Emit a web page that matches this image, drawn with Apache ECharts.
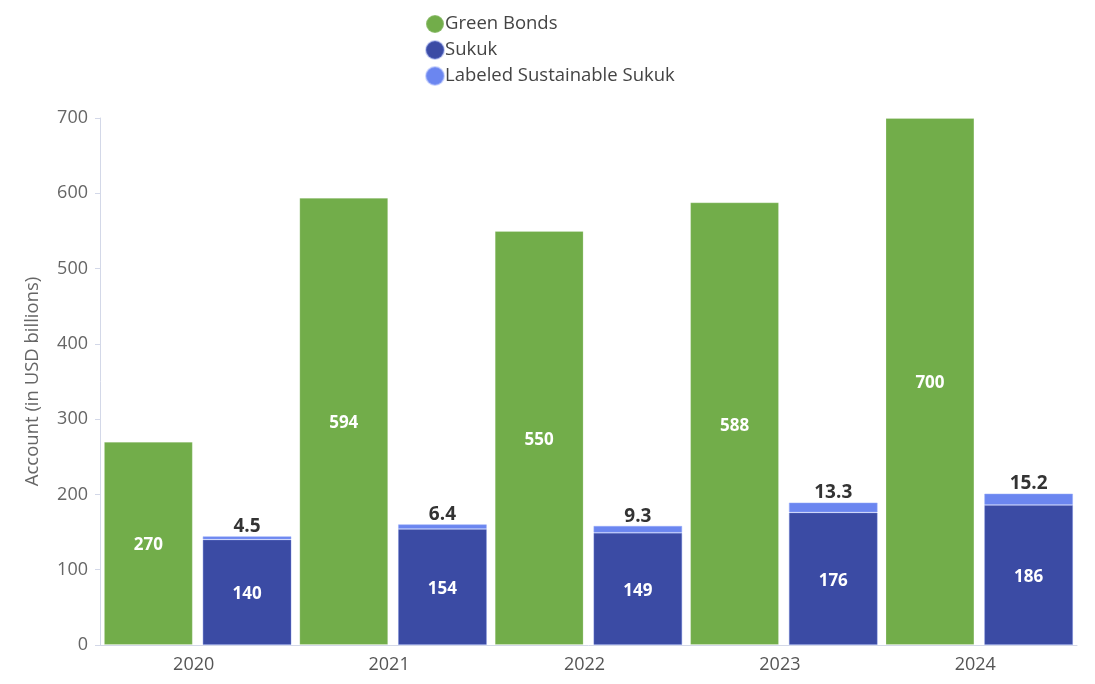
<!DOCTYPE html>
<html>
<head>
<meta charset="utf-8">
<script src="https://cdn.jsdelivr.net/npm/echarts@6/dist/echarts.min.js"></script>
<style>html,body{margin:0;padding:0;background:#fff;}#c{width:1095px;height:684px;}</style>
</head>
<body>
<div id="c"></div>
<script>
var categories = ['2020', '2021', '2022', '2023', '2024'];
var greenBonds = [270, 594, 550, 588, 700];
var sukuk = [140, 154, 149, 176, 186];
var labeledSukuk = [4.5, 6.4, 9.3, 13.3, 15.2];
var yTicks = [0, 100, 200, 300, 400, 500, 600, 700];

var FONT = '"Open Sans", "Noto Sans", sans-serif';
var chart = echarts.init(document.getElementById('c'));
chart.setOption({
  animation: false,
  textStyle: { fontFamily: FONT },
  legend: {
    orient: 'vertical',
    left: 420,
    top: 9,
    itemGap: 6,
    itemWidth: 18,
    itemHeight: 18,
    icon: 'circle',
    textStyle: { fontFamily: FONT, fontSize: 18.5, color: '#444', padding: [0, 0, 0, -4] },
    data: ['Green Bonds', 'Sukuk', 'Labeled Sustainable Sukuk']
  },
  grid: { left: 100, right: 18, top: 118, bottom: 39 },
  xAxis: {
    type: 'category',
    data: categories,
    axisLine: { lineStyle: { color: '#d3d8e8', width: 1 } },
    axisTick: { show: false },
    axisLabel: { color: '#555', fontSize: 18, margin: 11, padding: [0, 8, 0, 0], fontFamily: FONT }
  },
  yAxis: {
    type: 'value',
    min: yTicks[0],
    max: yTicks[yTicks.length - 1],
    interval: 100,
    name: 'Account (in USD billions)',
    nameLocation: 'middle',
    nameGap: 58,
    nameTextStyle: { color: '#666', fontSize: 18.5, fontFamily: FONT },
    axisLine: { show: true, lineStyle: { color: '#d3d8e8', width: 1 } },
    axisTick: { show: true, length: 5, lineStyle: { color: '#d3d8e8' } },
    splitLine: { show: false },
    axisLabel: { color: '#666', fontSize: 18, margin: 12, fontFamily: FONT }
  },
  series: [
    {
      name: 'Green Bonds',
      type: 'bar',
      data: greenBonds,
      barGap: '11%',
      barCategoryGap: '4%',
      itemStyle: { color: '#72ad4a', borderColor: 'rgba(255,255,255,0.2)', borderWidth: 1 },
      label: { show: true, position: 'inside', color: '#fff', fontWeight: 'bold', fontSize: 17, fontFamily: FONT, offset: [0, 2] }
    },
    {
      name: 'Sukuk',
      type: 'bar',
      stack: 'sukuk',
      data: sukuk,
      itemStyle: { color: '#3b4ba4', borderColor: 'rgba(110,130,220,0.4)', borderWidth: 1 },
      label: { show: true, position: 'inside', color: '#fff', fontWeight: 'bold', fontSize: 17, fontFamily: FONT, offset: [0, 2] }
    },
    {
      name: 'Labeled Sustainable Sukuk',
      type: 'bar',
      stack: 'sukuk',
      data: labeledSukuk,
      itemStyle: { color: '#6b86f0', borderColor: 'rgba(150,170,250,0.5)', borderWidth: 1 },
      label: { show: true, position: 'top', distance: 0, color: '#333', fontWeight: 'bold', fontSize: 19, fontFamily: FONT }
    }
  ]
});
</script>
</body>
</html>
